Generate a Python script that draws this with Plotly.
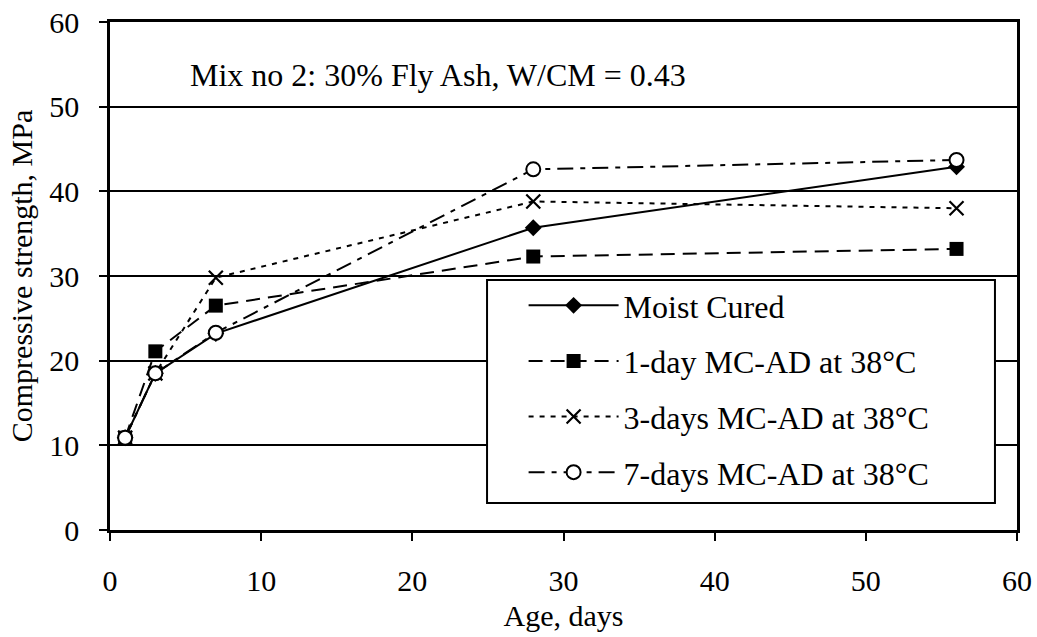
import plotly.graph_objects as go

# Compressive strength development, Mix no 2 (30% fly ash, W/CM = 0.43)
ages = [1, 3, 7, 28, 56]
moist_cured = [10.9, 18.5, 23.2, 35.7, 42.9]
mcad_1day = [10.9, 21.1, 26.5, 32.3, 33.2]
mcad_3days = [10.9, 18.5, 29.8, 38.8, 38.0]
mcad_7days = [10.9, 18.5, 23.3, 42.6, 43.7]

series_names = [
    "Moist Cured",
    "1-day MC-AD at 38°C",
    "3-days MC-AD at 38°C",
    "7-days MC-AD at 38°C",
]

FONT = "Liberation Serif, Times New Roman, serif"
BLACK = "#000000"

fig = go.Figure()

styles = [
    (moist_cured, "solid", dict(symbol="diamond", size=13, color=BLACK)),
    (mcad_1day, "14px,8px", dict(symbol="square", size=14, color=BLACK)),
    (mcad_3days, "5px,6px",
     dict(symbol="x-thin", size=14, color=BLACK, line=dict(color=BLACK, width=2.2))),
    (mcad_7days, "16px,7px,5px,7px",
     dict(symbol="circle", size=14, color="white", line=dict(color=BLACK, width=2))),
]

for i, (vals, dash, marker) in enumerate(styles):
    fig.add_trace(go.Scatter(
        x=ages, y=vals, name=series_names[i],
        mode="lines+markers",
        line=dict(color=BLACK, width=2, dash=dash),
        marker=marker,
        legendgroup=f"g{i}",
    ))

axis_common = dict(
    range=[0, 60], dtick=10, tick0=0, automargin=False,
    showline=True, linecolor=BLACK, linewidth=2.5, mirror=True,
    ticks="outside", tickcolor=BLACK, tickwidth=2,
    tickfont=dict(family=FONT, size=30, color=BLACK),
    zeroline=False,
)

fig.update_xaxes(
    **axis_common, ticklen=8, showgrid=False,
    ticklabelstandoff=14,
    title=dict(text="Age, days", font=dict(family=FONT, size=30, color=BLACK), standoff=10),
)
fig.update_yaxes(
    **axis_common, ticklen=8, showgrid=True, gridcolor=BLACK, gridwidth=2,
    ticklabelstandoff=14,
    title=dict(text="Compressive strength, MPa", font=dict(family=FONT, size=30, color=BLACK), standoff=8),
)

fig.add_annotation(
    x=5.15, y=53.7, xref="x", yref="y", xanchor="left", yanchor="middle",
    text="Mix no 2: 30% Fly Ash, W/CM = 0.43", showarrow=False,
    font=dict(family=FONT, size=32, color=BLACK),
)

# Framed white box behind the legend entries
fig.add_shape(
    type="rect", xref="paper", yref="paper",
    x0=0.4157, x1=0.9757, y0=0.0531, y1=0.4921,
    line=dict(color=BLACK, width=2), fillcolor="white", layer="above",
)

fig.update_layout(
    width=1037, height=637,
    margin=dict(l=110, r=20, t=22, b=107, autoexpand=False),
    paper_bgcolor="white", plot_bgcolor="white",
    font=dict(family=FONT, size=30, color=BLACK),
    showlegend=True,
    legend=dict(
        x=0.456, y=0.496, xanchor="left", yanchor="top",
        bgcolor="rgba(0,0,0,0)", borderwidth=0,
        font=dict(family=FONT, size=32, color=BLACK),
        itemwidth=90, tracegroupgap=11,
        traceorder="grouped",
    ),
)

fig.write_html("out.html")
